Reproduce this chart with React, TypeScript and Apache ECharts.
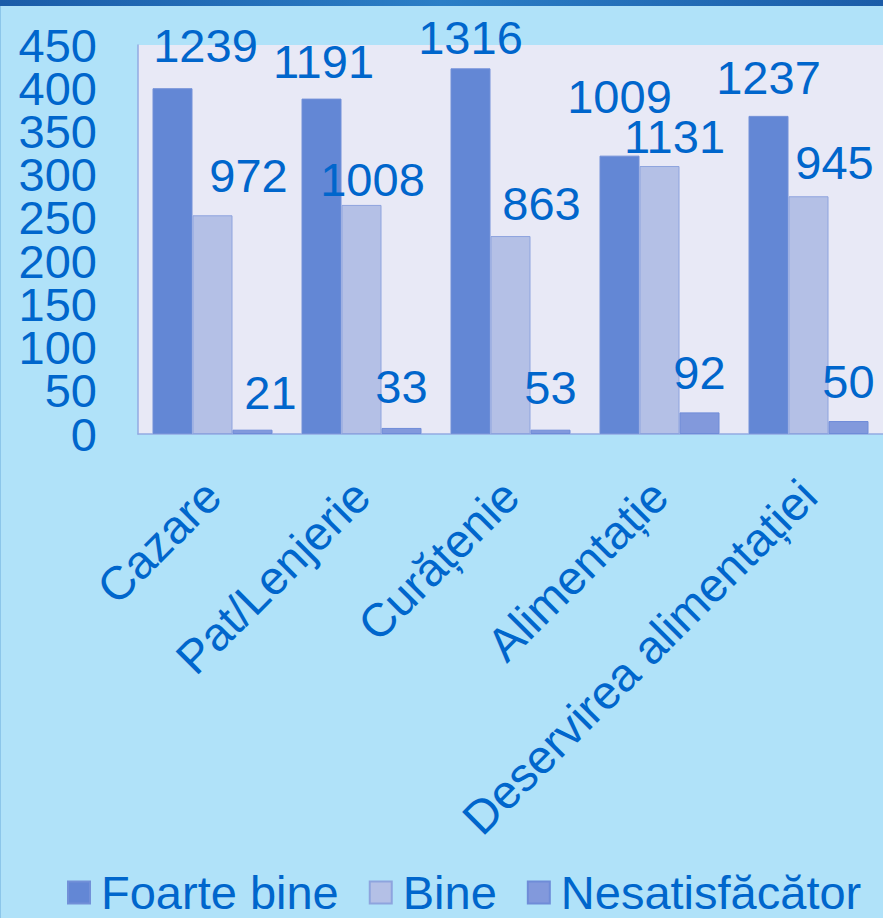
import React, { useEffect, useRef } from "react";
import * as echarts from "echarts";

const categories = ["Cazare", "Pat/Lenjerie", "Curățenie", "Alimentație", "Deservirea alimentației"];
const seriesNames = ["Foarte bine", "Bine", "Nesatisfăcător"];

// bar heights as drawn against the 0–450 axis
const foarteBine = [400, 388, 423, 322, 368];
const bine = [253, 265, 229, 310, 275];
const nesatisfacator = [5, 7, 5, 25, 15];

// data label texts shown above the bars
const foarteBineLabels = [1239, 1191, 1316, 1009, 1237];
const bineLabels = [972, 1008, 863, 1131, 945];
const nesatisfacatorLabels = [21, 33, 53, 92, 50];

const yTicks = { min: 0, max: 450, interval: 50 };

// label placement tweaks (layout only)
const fbLabelOffsets = [[33, -19], [2, -14], [0, -7], [0, -36], [0, -15]];
const bineLabelOffsets = [[36, -16], [11, -2], [31, -9], [15, -6], [26, -10]];
const nesLabelOffsets = [[18, -14], [0, -18], [0, -19], [0, -16], [0, -16]];

const FONT = "'Liberation Sans', Arial, sans-serif";
const TEXT = "#0066cc";

export default function App() {
  const ref = useRef<HTMLDivElement>(null);

  useEffect(() => {
    document.body.style.margin = "0";
    document.body.style.overflow = "hidden";
    if (!ref.current) return;
    const chart = echarts.init(ref.current, null, { renderer: "svg" });

    const mk = (
      name: string,
      values: number[],
      labels: number[],
      offsets: number[][],
      color: string,
      border: string
    ) => ({
      name,
      type: "bar",
      barWidth: 40,
      barGap: "0%",
      itemStyle: { color, borderColor: border, borderWidth: 1 },
      label: {
        show: true,
        position: "top",
        distance: 0,
        fontSize: 47,
        fontFamily: FONT,
        color: TEXT,
        formatter: (p: any) => String(labels[p.dataIndex]),
      },
      data: values.map((v, i) => ({ value: v, label: { offset: offsets[i] } })),
    });

    // two overlaid left axes: one labels even ticks, the other odd ticks,
    // so that the tightly packed labels are all kept
    const yAxisBase = (even: boolean, showLine: boolean) => ({
      type: "value",
      position: "left",
      min: yTicks.min,
      max: yTicks.max,
      interval: yTicks.interval,
      axisLine: { show: showLine, lineStyle: { color: "#93aae2", width: 1.5 } },
      axisTick: { show: false },
      splitLine: { show: false },
      axisLabel: {
        margin: 41,
        fontSize: 47,
        fontFamily: FONT,
        color: TEXT,
        hideOverlap: false,
        formatter: (v: number) => {
          const idx = Math.round((v - yTicks.min) / yTicks.interval);
          return (idx % 2 === 0) === even ? String(v) : "";
        },
      },
    });

    chart.setOption({
      animation: false,
      backgroundColor: "#b0e2f9",
      textStyle: { fontFamily: FONT },
      graphic: [
        {
          type: "rect",
          shape: { x: 0, y: 0, width: 883, height: 6 },
          style: {
            fill: new echarts.graphic.LinearGradient(0, 0, 1, 0, [
              { offset: 0, color: "#1b5ca8" },
              { offset: 0.5, color: "#2b7ec6" },
              { offset: 1, color: "#1b5ca8" },
            ]),
          },
          z: 100,
        },
        {
          type: "rect",
          shape: { x: 0, y: 6, width: 1, height: 912 },
          style: { fill: "#8cc6ea" },
          z: 100,
        },
      ],
      grid: {
        left: 138,
        right: 0,
        top: 45,
        bottom: 484,
        show: true,
        backgroundColor: "#e8e9f6",
        borderWidth: 0,
      },
      legend: {
        data: seriesNames,
        left: 62,
        top: 864,
        itemWidth: 22,
        itemHeight: 22,
        itemGap: 30,
        icon: "rect",
        textStyle: {
          fontSize: 47,
          lineHeight: 40,
          fontFamily: FONT,
          color: TEXT,
          padding: [0, 0, 0, 6],
        },
      },
      xAxis: {
        type: "category",
        data: categories,
        axisLine: { show: true, lineStyle: { color: "#93aae2", width: 1.5 } },
        axisTick: { show: false },
        axisLabel: {
          interval: 0,
          rotate: 45,
          margin: 54,
          fontSize: 47,
          fontFamily: FONT,
          color: TEXT,
        },
      },
      yAxis: [yAxisBase(true, true), yAxisBase(false, false)],
      series: [
        mk(seriesNames[0], foarteBine, foarteBineLabels, fbLabelOffsets, "#6387d5", "#7290d8"),
        mk(seriesNames[1], bine, bineLabels, bineLabelOffsets, "#b4c0e6", "#8ea4de"),
        mk(seriesNames[2], nesatisfacator, nesatisfacatorLabels, nesLabelOffsets, "#8299dc", "#6f8cd8"),
      ],
    });

    return () => chart.dispose();
  }, []);

  return <div ref={ref} style={{ width: 883, height: 918 }} />;
}
